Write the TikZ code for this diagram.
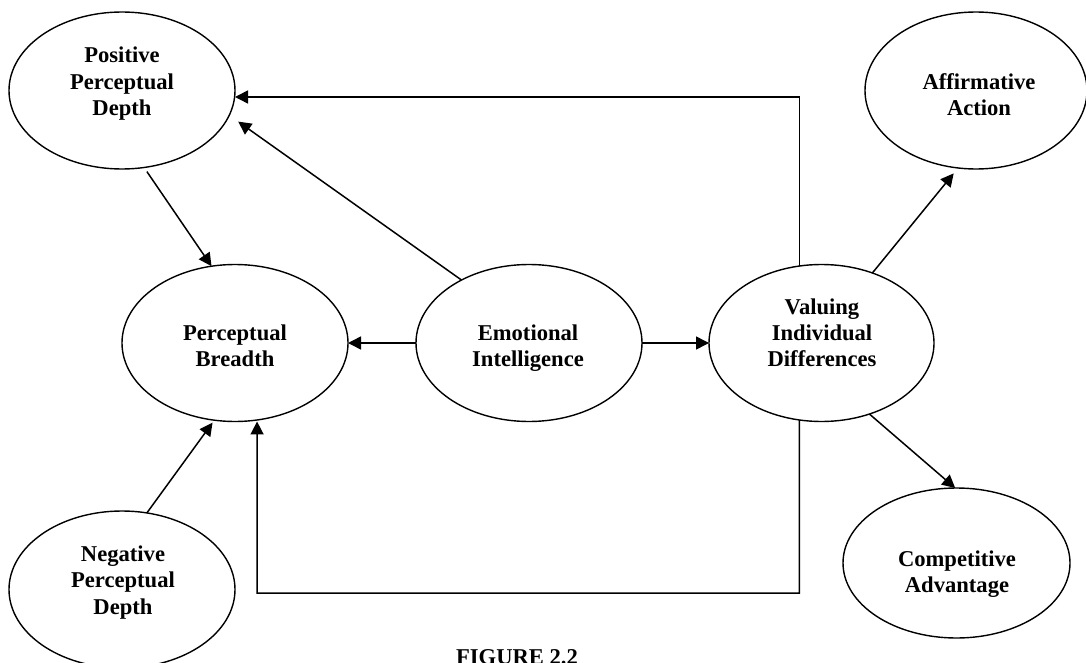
\documentclass[tikz,border=0pt]{standalone}
\usepackage{fontspec}
\setmainfont{Liberation Serif}
\usetikzlibrary{arrows.meta,shapes.geometric}
\begin{document}
\begin{tikzpicture}[x=1pt,y=-1pt,
  construct/.style={draw, line width=1.4pt, ellipse, minimum width=226pt,
    minimum height=157pt, inner sep=0pt, outer sep=0pt},
  lbl/.style={align=center, font=\fontsize{22.6}{26.3}\selectfont\bfseries, inner sep=0pt},
  arr/.style={line width=1.5pt, -{Triangle[length=13pt,width=13pt]}},
]
\useasboundingbox (0,0) rectangle (1086,663);
\clip (0,0) rectangle (1086,663);

% constructs
\node[construct] (pos) at (122,90.5) {};
\node[construct] (pb) at (235,343) {};
\node[construct] (ei) at (529,343) {};
\node[construct, minimum width=225pt] (vid) at (821.5,343) {};
\node[construct, minimum width=222pt] (aa) at (976,90.5) {};
\node[construct, minimum width=227pt, minimum height=150pt] (comp) at (956.5,563) {};
\node[construct] (neg) at (122,589.5) {};

% labels
\node[lbl, yshift=6.8pt] (posT) at (pos) {Positive\\Perceptual\\Depth};
\node[lbl, yshift=-2.6pt] (pbT) at (pb) {Perceptual\\Breadth};
\node[lbl, yshift=-5pt, xshift=-1pt] (eiT) at (ei) {Emotional\\Intelligence};
\node[lbl, yshift=10.3pt, xshift=0.5pt] (vidT) at (vid) {Valuing\\Individual\\Differences};
\node[lbl, yshift=-4pt, xshift=3pt] (aaT) at (aa) {Affirmative\\Action};
\node[lbl, yshift=-11.4pt, xshift=0.5pt] (compT) at (comp) {Competitive\\Advantage};
\node[lbl, yshift=7pt, xshift=1pt] (negT) at (neg) {Negative\\Perceptual\\Depth};
\node[lbl, anchor=base] (cap) at (517,664) {FIGURE 2.2};

% bends of the two loops
\coordinate (topbend) at (799,97);
\coordinate (botL) at (257,593);

% connectors
\draw[arr] (vid.106.2) |- (pos.east |- topbend);
\draw[arr, shorten >=11pt] (ei.137) -- (pos.-13);
\draw[arr, shorten <=5pt] (pos.-74.6) -- (pb.107);
\draw[arr, shorten >=3pt] (neg.72.1) -- (pb.-105.5);
\draw[arr] (ei.west) -- (pb.east);
\draw[arr] (ei.east) -- (vid.west);
\draw[arr, shorten >=1.5pt] (vid.-106.2) |- (botL) -- (pb.-74.2);
\draw[arr, shorten >=7pt] (vid.54.8) -- (aa.-103);
\draw[arr] (vid.-56.2) -- (comp.91);
\end{tikzpicture}
\end{document}
